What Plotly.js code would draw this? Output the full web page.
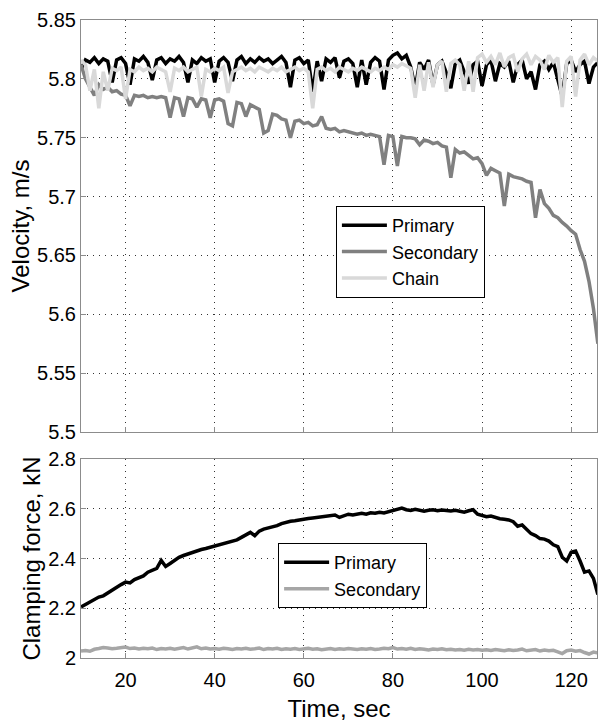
<!DOCTYPE html>
<html>
<head>
<meta charset="utf-8">
<script src="https://cdn.plot.ly/plotly-3.0.1.min.js"></script>
<style>
html,body{margin:0;padding:0;background:#fff;}
#chart{width:598px;height:724px;}
</style>
</head>
<body>
<div id="chart"></div>
<script>
// Time axis, seconds
const time = [10,11,12,13,14,15,16,17,18,19,20,21,22,23,24,25,26,27,28,29,30,31,32,33,34,35,36,37,38,39,
40,41,42,43,44,45,46,47,48,49,50,51,52,53,54,55,56,57,58,59,60,61,62,63,64,65,66,67,68,69,
70,71,72,73,74,75,76,77,78,79,80,81,82,83,84,85,86,87,88,89,90,91,92,93,94,95,96,97,98,99,
100,101,102,103,104,105,106,107,108,109,110,111,112,113,114,115,116,117,118,119,120,121,122,123,124,125,126];

// Velocity, m/s
const velPrimary = [5.808,5.816,5.814,5.818,5.813,5.817,5.815,5.797,5.816,5.818,5.813,5.795,5.817,5.815,5.819,5.814,5.799,5.816,5.818,5.813,
5.817,5.815,5.819,5.814,5.797,5.816,5.813,5.818,5.815,5.817,5.797,5.815,5.818,5.814,5.798,5.816,5.819,5.813,5.817,5.814,
5.818,5.815,5.817,5.813,5.816,5.819,5.814,5.793,5.816,5.818,5.813,5.816,5.789,5.815,5.798,5.817,5.814,5.818,5.801,5.815,
5.817,5.813,5.793,5.816,5.795,5.814,5.818,5.815,5.791,5.816,5.820,5.822,5.817,5.820,5.810,5.792,5.814,5.808,5.816,5.795,
5.812,5.815,5.805,5.792,5.813,5.816,5.806,5.796,5.812,5.815,5.794,5.812,5.816,5.798,5.813,5.810,5.815,5.797,5.812,5.816,
5.800,5.806,5.791,5.812,5.815,5.808,5.814,5.800,5.785,5.813,5.816,5.806,5.812,5.815,5.796,5.810,5.814];

const velSecondary = [5.812,5.800,5.793,5.786,5.795,5.791,5.793,5.789,5.790,5.787,5.786,5.777,5.786,5.785,5.786,5.784,5.785,5.784,5.785,5.784,
5.767,5.784,5.783,5.768,5.784,5.783,5.776,5.783,5.782,5.767,5.782,5.783,5.781,5.762,5.760,5.780,5.779,5.768,5.778,5.776,
5.774,5.754,5.756,5.770,5.769,5.766,5.765,5.750,5.764,5.765,5.762,5.763,5.760,5.761,5.768,5.758,5.757,5.758,5.755,5.756,
5.755,5.754,5.753,5.754,5.752,5.753,5.752,5.751,5.727,5.752,5.751,5.726,5.751,5.750,5.750,5.749,5.744,5.748,5.747,5.745,
5.746,5.743,5.742,5.716,5.740,5.737,5.738,5.735,5.732,5.733,5.728,5.718,5.724,5.722,5.720,5.692,5.719,5.717,5.716,5.715,
5.713,5.712,5.682,5.706,5.694,5.690,5.684,5.682,5.678,5.675,5.671,5.668,5.655,5.645,5.628,5.605,5.575];

const velChain = [5.816,5.812,5.790,5.808,5.775,5.806,5.790,5.809,5.807,5.810,5.783,5.808,5.806,5.810,5.807,5.809,5.806,5.810,5.808,5.806,
5.789,5.809,5.807,5.810,5.806,5.808,5.810,5.785,5.808,5.806,5.809,5.807,5.810,5.788,5.806,5.808,5.810,5.807,5.809,5.806,
5.810,5.808,5.806,5.809,5.807,5.810,5.806,5.808,5.810,5.807,5.809,5.806,5.775,5.808,5.810,5.807,5.809,5.806,5.810,5.808,
5.806,5.809,5.807,5.810,5.808,5.806,5.809,5.807,5.810,5.808,5.812,5.810,5.813,5.811,5.809,5.784,5.812,5.790,5.814,5.793,
5.812,5.815,5.789,5.813,5.816,5.812,5.790,5.815,5.789,5.818,5.821,5.814,5.819,5.812,5.822,5.810,5.818,5.820,5.806,5.817,
5.821,5.812,5.819,5.816,5.808,5.820,5.814,5.818,5.776,5.815,5.819,5.785,5.816,5.821,5.812,5.818,5.815];

// Clamping force, kN
const clampPrimary = [2.205,2.215,2.225,2.232,2.245,2.250,2.262,2.270,2.283,2.295,2.305,2.302,2.315,2.322,2.330,2.345,2.352,2.360,2.392,2.368,
2.380,2.392,2.405,2.412,2.418,2.425,2.432,2.436,2.440,2.445,2.452,2.455,2.462,2.466,2.470,2.475,2.485,2.495,2.505,2.492,
2.510,2.518,2.522,2.528,2.532,2.540,2.546,2.550,2.552,2.556,2.558,2.561,2.563,2.565,2.568,2.570,2.572,2.575,2.565,2.572,
2.578,2.575,2.580,2.582,2.578,2.584,2.582,2.586,2.583,2.588,2.592,2.600,2.603,2.596,2.593,2.598,2.594,2.590,2.594,2.596,
2.592,2.595,2.593,2.591,2.594,2.589,2.586,2.592,2.596,2.578,2.574,2.568,2.571,2.565,2.560,2.558,2.555,2.548,2.530,2.535,
2.518,2.500,2.492,2.480,2.478,2.470,2.455,2.448,2.405,2.390,2.425,2.430,2.390,2.345,2.350,2.320,2.255];

const clampSecondary = [2.028,2.030,2.027,2.035,2.038,2.042,2.040,2.037,2.039,2.041,2.044,2.038,2.040,2.036,2.039,2.037,2.040,2.034,2.038,2.036,
2.039,2.035,2.038,2.042,2.036,2.039,2.045,2.037,2.040,2.036,2.038,2.035,2.039,2.037,2.034,2.038,2.036,2.039,2.035,2.037,
2.040,2.034,2.038,2.036,2.039,2.034,2.037,2.035,2.038,2.034,2.036,2.039,2.035,2.037,2.033,2.036,2.038,2.034,2.037,2.035,
2.038,2.036,2.034,2.037,2.035,2.038,2.034,2.036,2.039,2.037,2.042,2.036,2.038,2.035,2.039,2.034,2.037,2.035,2.032,2.036,
2.034,2.037,2.033,2.035,2.032,2.034,2.031,2.035,2.032,2.034,2.031,2.033,2.030,2.034,2.031,2.029,2.033,2.030,2.032,2.036,
2.029,2.031,2.034,2.028,2.032,2.029,2.031,2.025,2.018,2.029,2.032,2.027,2.030,2.022,2.016,2.024,2.020];

// Tick labels
const velTicks = [5.5,5.55,5.6,5.65,5.7,5.75,5.8,5.85];
const velTickText = ['5.5','5.55','5.6','5.65','5.7','5.75','5.8','5.85'];
const forceTicks = [2,2.2,2.4,2.6,2.8];
const forceTickText = ['2','2.2','2.4','2.6','2.8'];
const timeTicks = [20,40,60,80,100,120];

const FONT = 'Liberation Sans, Arial, sans-serif';

const traces = [
  {x: time, y: velPrimary, name: 'Primary', type: 'scatter', mode: 'lines',
   line: {color: '#000000', width: 3.5}, xaxis: 'x', yaxis: 'y', legend: 'legend'},
  {x: time, y: velSecondary, name: 'Secondary', type: 'scatter', mode: 'lines',
   line: {color: '#808080', width: 3.5}, xaxis: 'x', yaxis: 'y', legend: 'legend'},
  {x: time, y: velChain, name: 'Chain', type: 'scatter', mode: 'lines',
   line: {color: '#d9d9d9', width: 3.5}, xaxis: 'x', yaxis: 'y', legend: 'legend'},
  {x: time, y: clampPrimary, name: 'Primary', type: 'scatter', mode: 'lines',
   line: {color: '#000000', width: 3.5}, xaxis: 'x2', yaxis: 'y2', legend: 'legend2'},
  {x: time, y: clampSecondary, name: 'Secondary', type: 'scatter', mode: 'lines',
   line: {color: '#a6a6a6', width: 3.5}, xaxis: 'x2', yaxis: 'y2', legend: 'legend2'}
];

const gridStyle = {
  showgrid: true, gridcolor: '#333333', gridwidth: 1, griddash: '1px,5px',
  showline: true, linecolor: '#8c8c8c', linewidth: 1, mirror: true,
  ticks: 'inside', ticklen: 5, tickcolor: '#8c8c8c', zeroline: false,
  tickfont: {family: FONT, size: 20, color: '#000'}
};

const layout = {
  width: 598, height: 724,
  margin: {l: 81, r: 1, t: 20, b: 66},
  paper_bgcolor: '#fff', plot_bgcolor: '#fff',
  font: {family: FONT, color: '#000'},
  showlegend: true,
  xaxis: Object.assign({}, gridStyle, {domain: [0, 1], anchor: 'y', range: [10, 125.8],
    tickvals: timeTicks, showticklabels: false}),
  yaxis: Object.assign({}, gridStyle, {domain: [0.3542, 1], anchor: 'x', range: [5.5, 5.85],
    tickvals: velTicks, ticktext: velTickText,
    title: {text: 'Velocity, m/s', font: {family: FONT, size: 24, color: '#000'}, standoff: 0}}),
  xaxis2: Object.assign({}, gridStyle, {domain: [0, 1], anchor: 'y2', range: [10, 125.8],
    tickvals: timeTicks, ticklabelstandoff: 4,
    title: {text: 'Time, sec', font: {family: FONT, size: 24, color: '#000'}, standoff: 10}}),
  yaxis2: Object.assign({}, gridStyle, {domain: [0, 0.3119], anchor: 'x2', range: [2, 2.8],
    tickvals: forceTicks, ticktext: forceTickText,
    title: {text: 'Clamping force, kN', font: {family: FONT, size: 24, color: '#000'}, standoff: 0}}),
  legend: {x: 0.494, y: 0.7085, xanchor: 'left', yanchor: 'top',
    bgcolor: '#fff', bordercolor: '#000', borderwidth: 1, itemwidth: 45,
    font: {family: FONT, size: 18, color: '#000'}, tracegroupgap: 0},
  legend2: {x: 0.382, y: 0.180, xanchor: 'left', yanchor: 'top',
    bgcolor: '#fff', bordercolor: '#000', borderwidth: 1, itemwidth: 45,
    font: {family: FONT, size: 18, color: '#000'}, tracegroupgap: 0}
};

Plotly.newPlot('chart', traces, layout, {staticPlot: true, displayModeBar: false});
</script>
</body>
</html>
